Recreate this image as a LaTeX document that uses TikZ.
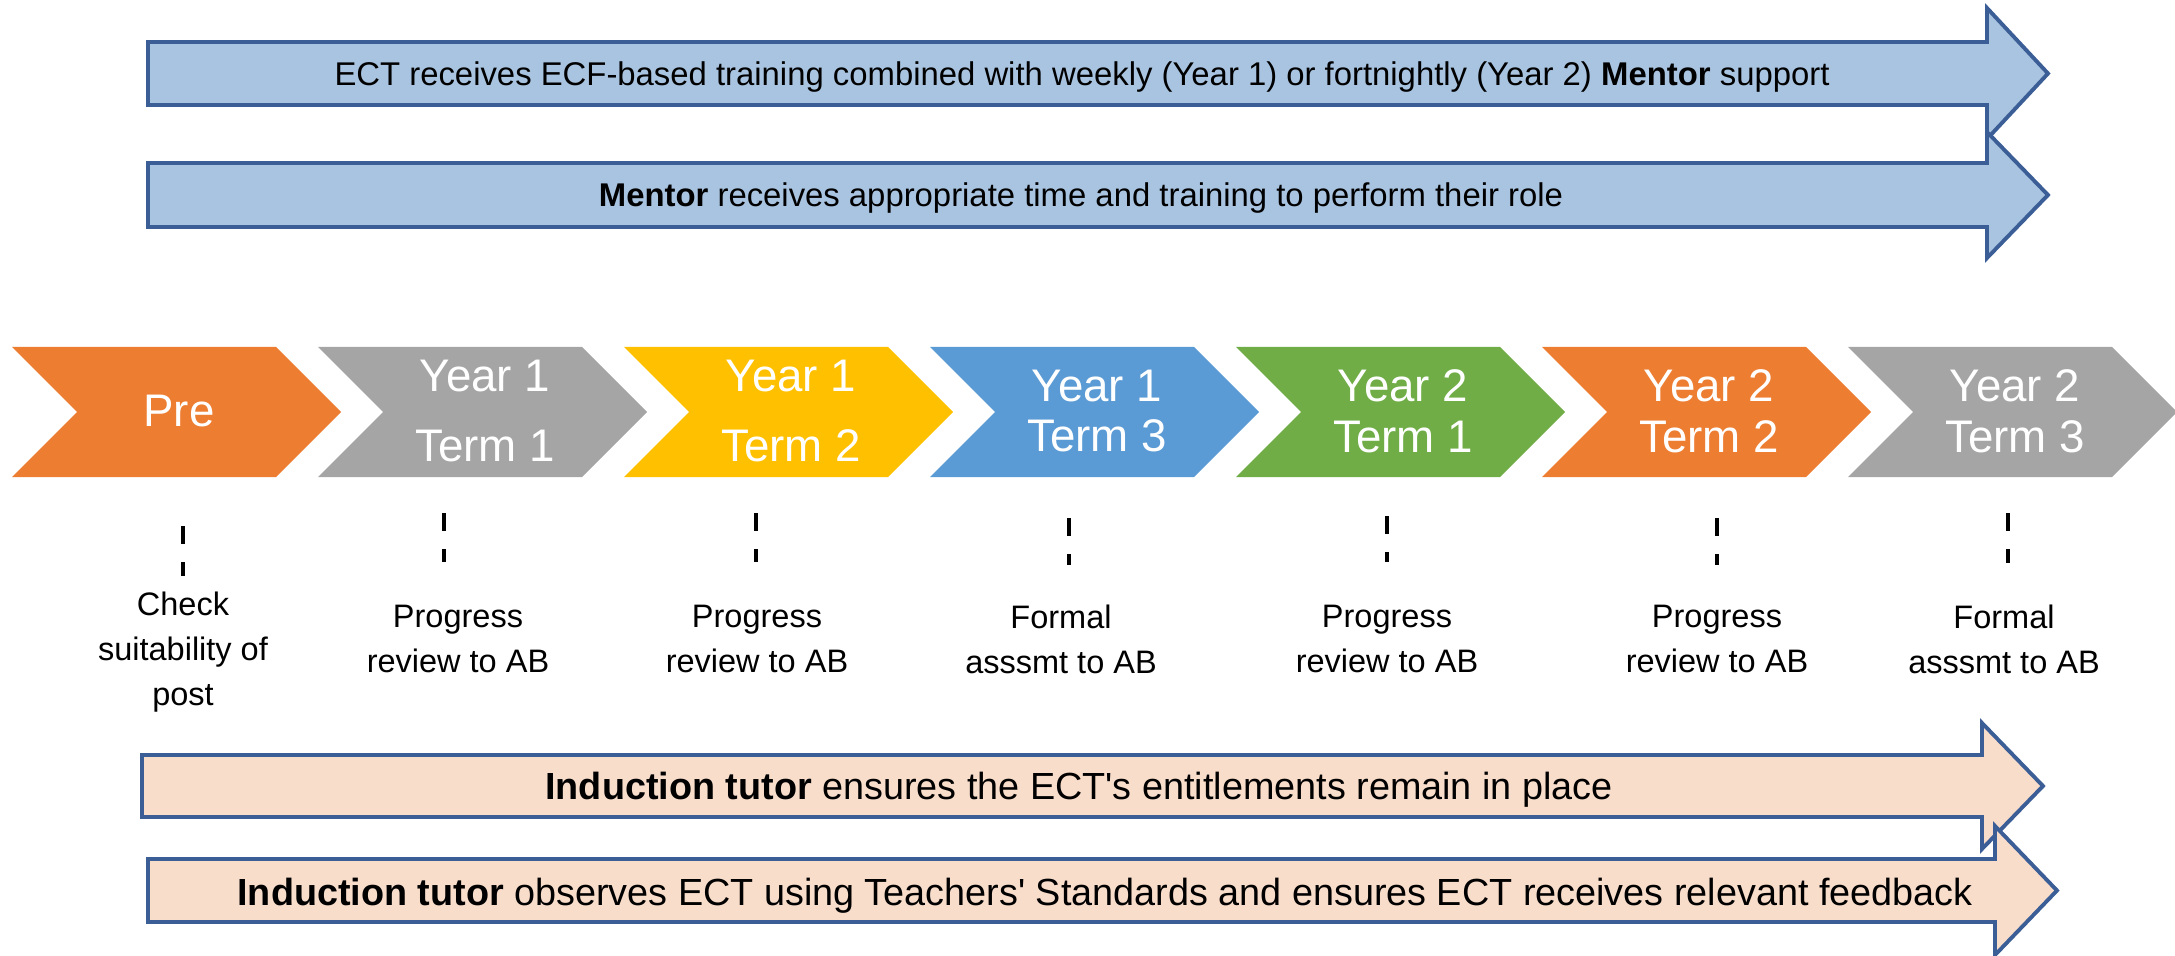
\documentclass[tikz,border=0pt]{standalone}
\usepackage{fontspec}
\setmainfont{Liberation Sans}
\usetikzlibrary{positioning}

\definecolor{edgeblue}{HTML}{3C5E96}
\definecolor{mentorfill}{HTML}{A9C4E0}
\definecolor{tutorfill}{HTML}{F9DDCB}
\definecolor{preorange}{HTML}{ED7D31}
\definecolor{termgrey}{HTML}{A5A5A5}
\definecolor{termyellow}{HTML}{FFC000}
\definecolor{termblue}{HTML}{5B9BD5}
\definecolor{termgreen}{HTML}{70AD47}

\begin{document}
\begin{tikzpicture}[x=0.02cm, y=-0.02cm,
    mentorbar/.style={draw=edgeblue, line width=2.2pt, fill=mentorfill},
    tutorbar/.style={draw=edgeblue, line width=2.2pt, fill=tutorfill},
    bartext/.style={anchor=base, inner sep=0pt, font=\fontsize{18.7}{22}\selectfont},
    tutortext/.style={anchor=base, inner sep=0pt, font=\fontsize{21.5}{25}\selectfont},
    phase/.style={text=white, align=center, inner sep=0pt, font=\fontsize{26}{29}\selectfont},
    widephase/.style={phase, font=\fontsize{26}{40.4}\selectfont},
    dashtick/.style={line width=2.4pt, dash pattern=on 10pt off 10.5pt},
    review/.style={anchor=north, align=center, inner sep=0pt, font=\fontsize{18.5}{25.6}\selectfont}]
  \useasboundingbox (0,0) rectangle (2175,956);

  % mentor arrows
  \draw[mentorbar] (148,42) -- (1987,42) -- (1987,8) -- (2048,73.5) -- (1987,139) -- (1987,105) -- (148,105) -- cycle;
  \node[bartext] (ecttraining) at (1082,86) {ECT receives ECF-based training combined with weekly (Year 1) or fortnightly (Year 2) \textbf{Mentor} support};
  \draw[mentorbar] (148,163) -- (1987,163) -- (1987,132) -- (2048,195) -- (1987,258) -- (1987,227) -- (148,227) -- cycle;
  \node[bartext] (mentortime) at (1081,207) {\textbf{Mentor} receives appropriate time and training to perform their role};

  % phases
  \fill[preorange] (12,347) -- (276,347) -- (341,412) -- (276,477) -- (12,477) -- (77,412) -- cycle;
  \node[phase] (pre) at (179,411) {Pre};
  \fill[termgrey] (318,347) -- (582,347) -- (647,412) -- (582,477) -- (318,477) -- (383,412) -- cycle;
  \node[widephase] (y1t1) at (485,411) {Year 1\\Term 1};
  \fill[termyellow] (624,347) -- (888,347) -- (953,412) -- (888,477) -- (624,477) -- (689,412) -- cycle;
  \node[widephase] (y1t2) at (791,411) {Year 1\\Term 2};
  \fill[termblue] (930,347) -- (1194,347) -- (1259,412) -- (1194,477) -- (930,477) -- (995,412) -- cycle;
  \node[phase] (y1t3) at (1097,411) {Year 1\\Term 3};
  \fill[termgreen] (1236,347) -- (1500,347) -- (1565,412) -- (1500,477) -- (1236,477) -- (1301,412) -- cycle;
  \node[phase] (y2t1) at (1403,411) {Year 2\\Term 1};
  \fill[preorange] (1542,347) -- (1806,347) -- (1871,412) -- (1806,477) -- (1542,477) -- (1607,412) -- cycle;
  \node[phase] (y2t2) at (1709,411) {Year 2\\Term 2};
  \fill[termgrey] (1848,347) -- (2112,347) -- (2177,412) -- (2112,477) -- (1848,477) -- (1913,412) -- cycle;
  \node[phase] (y2t3) at (2015,411) {Year 2\\Term 3};

  % checkpoints
  \draw[dashtick] (183,526) -- (183,576);
  \node[review] (suitability) at (183,592) {Check\\suitability of\\post};
  \draw[dashtick] (444,513) -- (444,562);
  \node[review] (review1) at (458,605) {Progress\\review to AB};
  \draw[dashtick] (756,513) -- (756,562);
  \node[review] (review2) at (757,605) {Progress\\review to AB};
  \draw[dashtick] (1069,518) -- (1069,565);
  \node[review] (formal1) at (1061,605) {Formal\\asssmt to AB};
  \draw[dashtick] (1387,516) -- (1387,562);
  \node[review] (review3) at (1387,605) {Progress\\review to AB};
  \draw[dashtick] (1717,518) -- (1717,565);
  \node[review] (review4) at (1717,605) {Progress\\review to AB};
  \draw[dashtick] (2008,513) -- (2008,563);
  \node[review] (formal2) at (2004,605) {Formal\\asssmt to AB};

  % induction tutor arrows
  \draw[tutorbar] (142,755) -- (1982,755) -- (1982,723) -- (2043,786) -- (1982,849) -- (1982,817) -- (142,817) -- cycle;
  \node[tutortext] (entitlements) at (1079,799) {\textbf{Induction tutor} ensures the ECT\textquotesingle s entitlements remain in place};
  \draw[tutorbar] (148,859) -- (1995,859) -- (1995,826) -- (2057,890.5) -- (1995,955) -- (1995,922) -- (148,922) -- cycle;
  \node[tutortext] (observes) at (1105,905) {\textbf{Induction tutor} observes ECT using Teachers\textquotesingle\ Standards and ensures ECT receives relevant feedback};
\end{tikzpicture}
\end{document}
